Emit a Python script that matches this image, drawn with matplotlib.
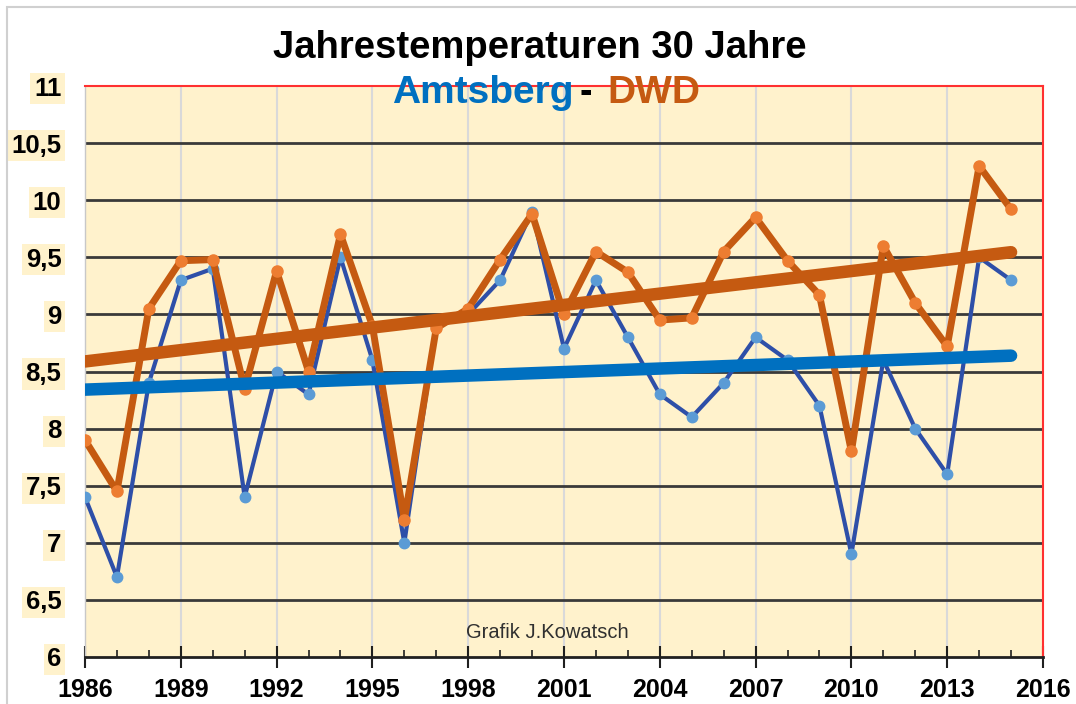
import numpy as np
import matplotlib
matplotlib.use("Agg")
import matplotlib.pyplot as plt
from matplotlib.patches import Rectangle

# Data
years = list(range(1986, 2016))
amtsberg = [7.4, 6.7, 8.4, 9.3, 9.4, 7.4, 8.5, 8.3, 9.5, 8.6,
            7.0, 8.9, 9.0, 9.3, 9.9, 8.7, 9.3, 8.8, 8.3, 8.1,
            8.4, 8.8, 8.6, 8.2, 6.9, 8.6, 8.0, 7.6, 9.5, 9.3]
dwd = [7.9, 7.45, 9.05, 9.47, 9.48, 8.35, 9.38, 8.5, 9.7, 8.9,
       7.2, 8.88, 9.05, 9.48, 9.88, 9.0, 9.55, 9.37, 8.95, 8.97,
       9.55, 9.85, 9.47, 9.17, 7.8, 9.6, 9.1, 8.72, 10.3, 9.92]
yticks = [6, 6.5, 7, 7.5, 8, 8.5, 9, 9.5, 10, 10.5, 11]
ytick_labels = ['6', '6,5', '7', '7,5', '8', '8,5', '9', '9,5', '10', '10,5', '11']
xticks = list(range(1986, 2017, 3))

plt.rcParams['font.family'] = ['Liberation Sans', 'DejaVu Sans']

W, H = 1076, 704
fig = plt.figure(figsize=(W / 100, H / 100), dpi=100)
fig.patch.set_facecolor('white')

# light outer frame
fig.patches.append(Rectangle((7 / W, -0.1), 1.2, 1 - 7 / H + 0.1, transform=fig.transFigure,
                             facecolor='none', edgecolor='#D0D0D0', lw=1.5))

ax = fig.add_axes([85 / W, 1 - 657 / H, (1043 - 85) / W, (657 - 86) / H])
ax.set_facecolor('#FFF2CC')
ax.set_xlim(1986, 2016)
ax.set_ylim(6, 11)

# grid
for x in xticks[1:-1]:
    ax.axvline(x, color='#D9D9D9', lw=1.5, zorder=1)
for y in yticks[1:-1]:
    ax.axhline(y, color='#3A3A3A', lw=2, zorder=1)

# data lines
ax.plot(years, amtsberg, color='#2E4FA8', lw=3, marker='o', markersize=7.5,
        markerfacecolor='#5B9BD5', markeredgecolor='#5B9BD5', zorder=3)
ax.plot(years, dwd, color='#C55A11', lw=5, marker='o', markersize=8,
        markerfacecolor='#ED7D31', markeredgecolor='#ED7D31', zorder=4)

# linear trends
yrs = np.array(years)
p_a = np.polyfit(yrs, amtsberg, 1)
p_d = np.polyfit(yrs, dwd, 1)
ax.plot(yrs, np.polyval(p_a, yrs), color='#0070C0', lw=9, solid_capstyle='round', zorder=5)
ax.plot(yrs, np.polyval(p_d, yrs), color='#C55A11', lw=9, solid_capstyle='round', zorder=6)

# spines
ax.spines['top'].set_color('#FF3030')
ax.spines['right'].set_color('#FF3030')
ax.spines['top'].set_linewidth(1.5)
ax.spines['right'].set_linewidth(1.5)
ax.spines['left'].set_color('#C8C8C8')
ax.spines['left'].set_linewidth(1)
ax.spines['bottom'].set_color('#202020')
ax.spines['bottom'].set_linewidth(2)

# ticks
ax.set_xticks(xticks)
ax.set_xticklabels([str(x) for x in xticks], fontsize=18, fontweight='bold')
ax.set_xticks(years, minor=True)
ax.tick_params(axis='x', which='major', direction='inout', length=16, width=1.5,
               color='#202020', pad=7)
ax.tick_params(axis='x', which='minor', direction='in', length=5, width=1.2, color='#202020')
ax.set_yticks(yticks)
ax.set_yticklabels(ytick_labels, fontsize=18.5, fontweight='bold')
ax.tick_params(axis='y', length=0, pad=17)
for lab in ax.get_yticklabels():
    lab.set_bbox(dict(facecolor='#FFF2CC', edgecolor='none', pad=2.5))

# titles
fig.text(540 / W, 1 - 58 / H, 'Jahrestemperaturen 30 Jahre', fontsize=27.5, fontweight='bold',
         ha='center', va='baseline', color='black')
fig.text(586 / W, 1 - 103 / H, '-', fontsize=27, fontweight='bold',
         ha='center', va='baseline', color='black', zorder=10)
fig.text(574 / W, 1 - 103 / H, 'Amtsberg', fontsize=28, fontweight='bold',
         ha='right', va='baseline', color='#0070C0', zorder=10)
fig.text(607 / W, 1 - 103 / H, 'DWD', fontsize=28, fontweight='bold',
         ha='left', va='baseline', color='#C55A11', zorder=10)

ax.text(2000.48, 6.17, 'Grafik J.Kowatsch', fontsize=14.5, color='#303030',
        ha='center', va='baseline', zorder=7)

fig.savefig('out.png', dpi=100)
